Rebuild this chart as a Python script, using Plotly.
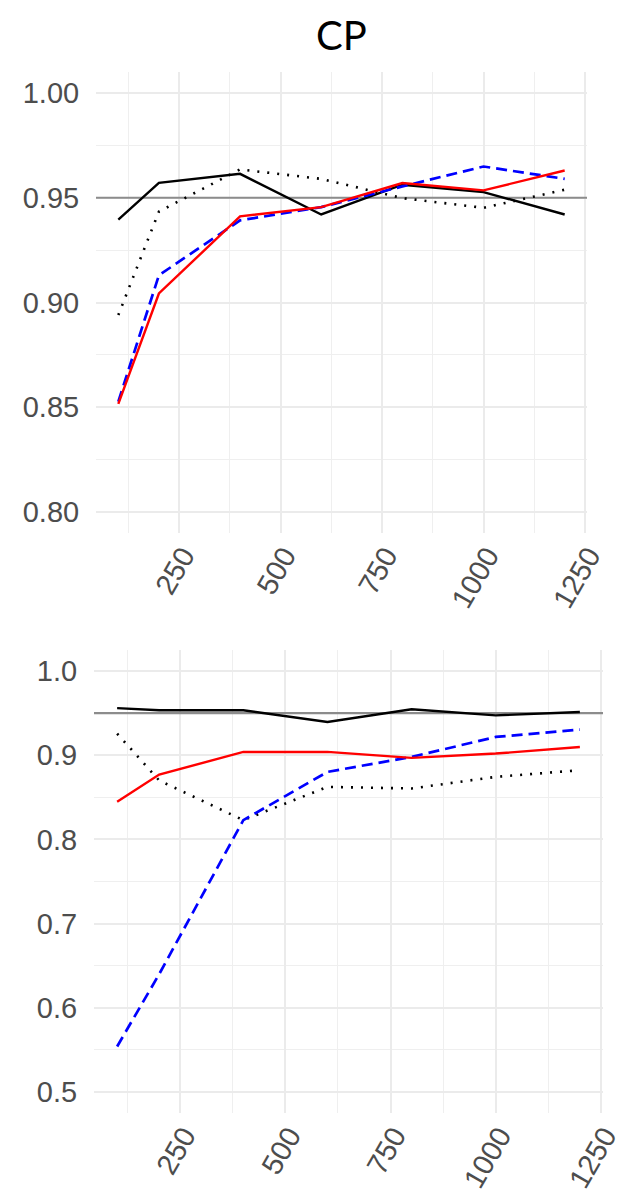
import plotly.graph_objects as go

# ---- data ----
n_values = [100, 200, 400, 600, 800, 1000, 1200]

top_black_solid = [0.9395, 0.9571, 0.9614, 0.9420, 0.9562, 0.9527, 0.9420]
top_black_dotted = [0.8940, 0.9434, 0.9635, 0.9590, 0.9498, 0.9452, 0.9538]
top_blue_dashed = [0.8527, 0.9130, 0.9392, 0.9455, 0.9554, 0.9649, 0.9590]
top_red_solid = [0.8516, 0.9043, 0.9411, 0.9455, 0.9570, 0.9535, 0.9630]

bot_black_solid = [0.9560, 0.9534, 0.9534, 0.9395, 0.9546, 0.9474, 0.9514]
bot_black_dotted = [0.9257, 0.8700, 0.8229, 0.8624, 0.8605, 0.8743, 0.8822]
bot_blue_dashed = [0.5540, 0.6400, 0.8229, 0.8802, 0.8980, 0.9217, 0.9304]
bot_red_solid = [0.8446, 0.8770, 0.9039, 0.9040, 0.8968, 0.9020, 0.9098]

nominal = 0.95
title_text = "CP"

W, H = 628, 1199

fig = go.Figure()

styles = [
    dict(color="black", width=2.4, dash="solid"),
    dict(color="black", width=2.6, dash="2px,8px"),
    dict(color="#0000FF", width=2.7, dash="11px,6px"),
    dict(color="#FF0000", width=2.4, dash="solid"),
]

top_series = [top_black_solid, top_black_dotted, top_blue_dashed, top_red_solid]
bot_series = [bot_black_solid, bot_black_dotted, bot_blue_dashed, bot_red_solid]

# reference lines first (drawn under series)
for xa, ya in [("x", "y"), ("x2", "y2")]:
    fig.add_trace(go.Scatter(x=[45, 1255], y=[nominal, nominal], mode="lines",
                             line=dict(color="#8C8C8C", width=2.2),
                             xaxis=xa, yaxis=ya, hoverinfo="skip"))

for vals, st in zip(top_series, styles):
    fig.add_trace(go.Scatter(x=n_values, y=vals, mode="lines", line=st,
                             xaxis="x", yaxis="y"))
for vals, st in zip(bot_series, styles):
    fig.add_trace(go.Scatter(x=n_values, y=vals, mode="lines", line=st,
                             xaxis="x2", yaxis="y2"))

tickfont = dict(family="Liberation Sans, Arial, sans-serif", size=29, color="#4D4D4D")
grid_major = "#EBEBEB"
grid_minor = "#EFEFEF"

def xaxis(domain, anchor):
    return dict(domain=domain, anchor=anchor, range=[45, 1255],
                tickmode="linear", tick0=0, dtick=250,
                tickangle=-60, tickfont=tickfont,
                showgrid=True, gridcolor=grid_major, gridwidth=1.8,
                minor=dict(tickmode="linear", tick0=0, dtick=125,
                           showgrid=True, gridcolor=grid_minor, gridwidth=1.4),
                zeroline=False, showline=False,
                ticks="", ticklabelstandoff=-1, ticklabelshift=4,
                automargin=False)

def yaxis(domain, anchor, rng, dtick, minor, fmt):
    return dict(domain=domain, anchor=anchor, range=rng,
                tickmode="linear", tick0=0, dtick=dtick, tickformat=fmt,
                tickfont=tickfont,
                showgrid=True, gridcolor=grid_major, gridwidth=1.8,
                minor=dict(tickmode="linear", tick0=0, dtick=minor,
                           showgrid=True, gridcolor=grid_minor, gridwidth=1.4),
                zeroline=False, showline=False,
                ticks="outside", ticklen=10, tickcolor="rgba(0,0,0,0)",
                automargin=False)

fig.update_layout(
    width=W, height=H,
    margin=dict(l=0, r=0, t=0, b=0),
    paper_bgcolor="white", plot_bgcolor="white",
    showlegend=False,
    xaxis=xaxis([96 / W, 587 / W], "y"),
    yaxis=yaxis([1 - 533 / H, 1 - 72 / H], "x", [0.79, 1.01], 0.05, 0.025, ".2f"),
    xaxis2=xaxis([94 / W, 603 / W], "y2"),
    yaxis2=yaxis([1 - 1113 / H, 1 - 650 / H], "x2", [0.475, 1.025], 0.1, 0.05, ".1f"),
    annotations=[dict(text=title_text, x=341.5 / W, y=1 - 35 / H, xref="paper", yref="paper",
                      xanchor="center", yanchor="middle", showarrow=False,
                      font=dict(family="Lato, Open Sans, sans-serif", size=40, color="black"))],
)

fig.write_html("out.html")
